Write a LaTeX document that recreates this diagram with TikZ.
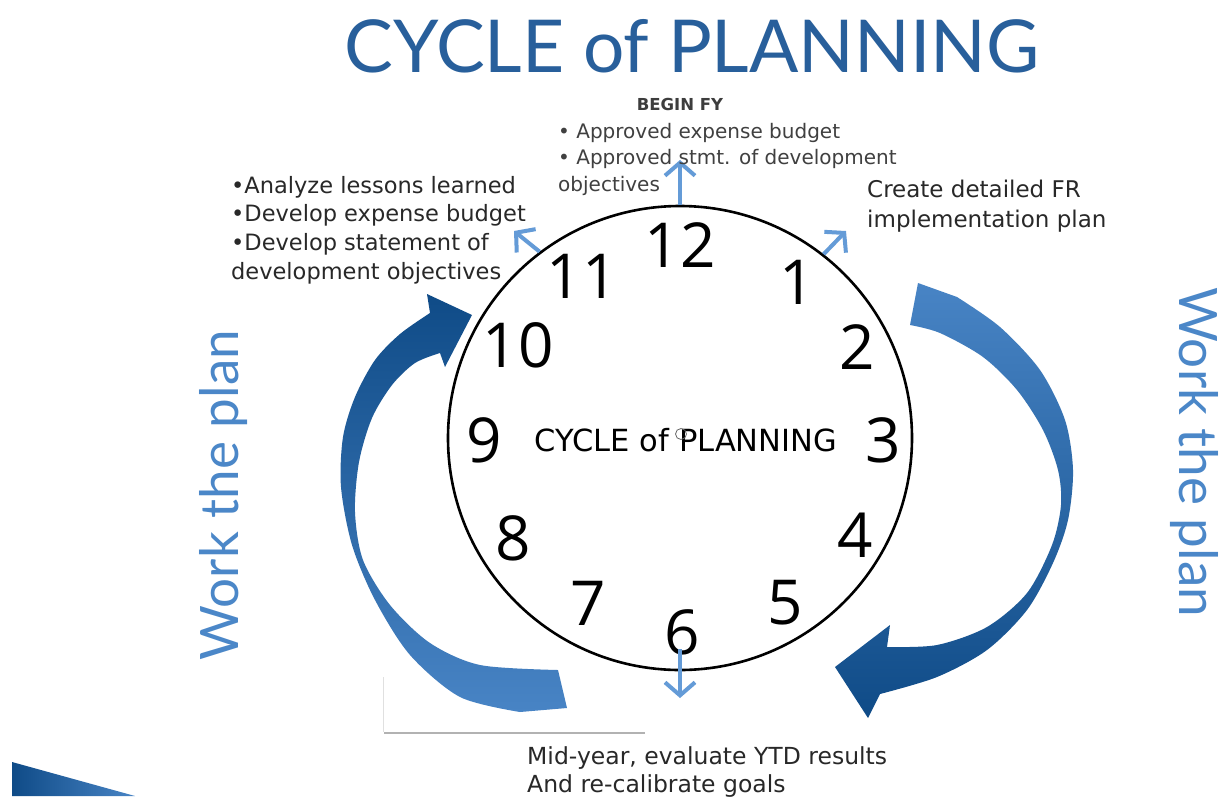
\documentclass[tikz,border=0pt]{standalone}
\usepackage{fontspec}
\setmainfont{DejaVu Sans}
\newfontfamily\titlefont{Lato}
\newfontfamily\digitfont{Open Sans}
\usetikzlibrary{arrows.meta,positioning}

\definecolor{titleblue}{RGB}{40,95,155}
\definecolor{planblue}{RGB}{75,135,200}
\definecolor{tickblue}{RGB}{100,155,215}
\definecolor{darkarrow}{RGB}{15,75,135}
\definecolor{lightarrow}{RGB}{72,132,197}
\definecolor{bodytext}{RGB}{40,40,40}

\tikzset{
  hourarrow/.style={draw=tickblue, line width=4pt, -{Straight Barb[length=13pt,width=30pt]}},
  hournum/.style={font=\digitfont\fontsize{62}{62}\selectfont, inner sep=0pt},
  notetext/.style={font=\fontsize{22.5}{28.6}\selectfont, text=bodytext, align=left, inner sep=0pt},
  plantext/.style={font=\titlefont\fontsize{53}{53}\selectfont, text=planblue},
}

\begin{document}
\begin{tikzpicture}[x=1pt,y=1pt]
    \fill[white] (0,0) rectangle (1221,-796);
    \useasboundingbox (0,0) rectangle (1221,-796);

    % title
    \node[font=\titlefont\fontsize{73}{73}\selectfont, text=titleblue] (title) at (692,-46) {CYCLE of PLANNING};

    % blank box under the left arrow
    \fill[white] (383,-677) rectangle (645,-732);
    \draw[black!30, line width=2.5pt] (384,-733) -- (645,-733);
    \draw[black!12, line width=1pt] (383,-677) -- (383,-732);

    % clock face
    \node[circle, draw, line width=2.6pt, minimum size=464pt, inner sep=0pt] (clock) at (680,-438) {};
    \node[font=\fontsize{30.5}{30.5}\selectfont] (centre) at (686,-440) {CYCLE of PLANNING};
    \draw[black!60, line width=0.8pt] (681,-434) circle (5.5);
    \foreach \n/\x/\y in {12/680/245, 1/797/282, 2/857/347, 3/883/440, 4/855/535, 5/785/603,
                          6/682/632, 7/588/603, 8/513/538, 9/484/440, 10/518/345, 11/582/276}
        \node[hournum] (h\n) at (\x,-\y) {\n};

    % milestone arrows out of the clock
    \coordinate (top tip) at (680,-160);
    \coordinate (left tip) at (514,-231);
    \coordinate (right tip) at (846,-231);
    \coordinate (bottom tip) at (680,-698);
    \draw[hourarrow] (clock.90) -- (top tip);
    \draw[hourarrow] (clock.127) -- (left tip);
    \draw[hourarrow] (clock.52) -- (right tip);
    \draw[hourarrow] ([yshift=22pt]clock.270) -- (bottom tip);

    % notes
    \node[font=\fontsize{16.5}{16.5}\selectfont\bfseries, text=bodytext!90] (beginfy) at (680,-104) {BEGIN FY};
    \node[notetext, font=\fontsize{20}{26.5}\selectfont, text=black!75, anchor=north west] (approved) at (558,-123)
        {• Approved expense budget\\• Approved stmt. of development\\objectives};
    \node[notetext, anchor=north west] (lessons) at (231,-176)
        {•Analyze lessons learned\\•Develop expense budget\\•Develop statement of\\development objectives};
    \node[notetext, font=\fontsize{23}{30}\selectfont, anchor=north west] (frplan) at (867,-180)
        {Create detailed FR\\implementation plan};
    \node[notetext, font=\fontsize{23.5}{28.6}\selectfont, anchor=north west] (midyear) at (527,-746)
        {Mid-year, evaluate YTD results\\And re-calibrate goals};

    % work the plan, both sides
    \node[plantext, rotate=90] (workleft) at (224,-495) {Work the plan};
    \node[plantext, rotate=-90] (workright) at (1194,-452) {Work the plan};

    % left curved arrow, up towards 10
    \shade[top color=darkarrow, bottom color=lightarrow]
        (567,-708) -- plot[smooth] coordinates {(520,-712) (460,-697) (410,-655) (375,-600) (352,-545)
            (341,-487) (343,-437) (355,-397) (375,-360) (400,-334) (430,-313)}
        -- (427,-294) -- (472,-315) -- (445,-367) -- (440,-353)
        -- plot[smooth] coordinates {(440,-353) (415,-363) (392,-385) (372,-418) (359,-462) (355,-512)
            (363,-560) (390,-605) (430,-643) (480,-665) (558,-670)}
        -- cycle;

    % right curved arrow, down towards 5
    \shade[top color=lightarrow, bottom color=darkarrow]
        (918,-283) -- plot[smooth] coordinates {(957,-297) (1000,-327) (1040,-370) (1065,-420) (1073,-470)
            (1068,-520) (1053,-563) (1027,-610) (987,-650) (937,-677) (880,-694)}
        -- (868,-718) -- (835,-667) -- (890,-625) -- (887,-647)
        -- plot[smooth] coordinates {(887,-647) (937,-645) (987,-627) (1027,-593) (1052,-545) (1061,-505)
            (1058,-470) (1043,-430) (1017,-390) (983,-357) (940,-333) (910,-325)}
        -- cycle;

    % corner wedge
    \shade[left color=darkarrow, right color=lightarrow] (12,-762) -- (135,-796) -- (12,-796) -- cycle;
\end{tikzpicture}
\end{document}
